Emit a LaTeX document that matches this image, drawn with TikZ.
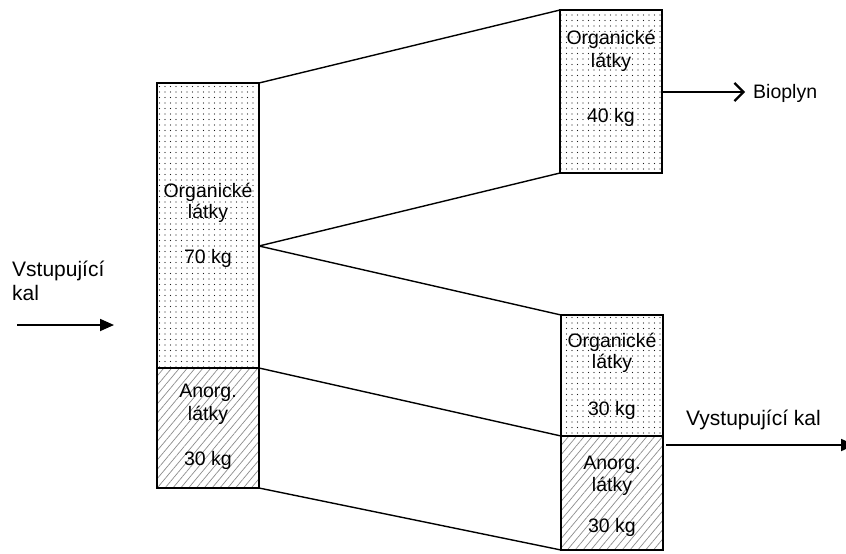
\documentclass[tikz,border=0pt]{standalone}
\usepackage{fontspec}
\setmainfont{Liberation Sans}
\usetikzlibrary{patterns.meta,arrows.meta}
\tikzset{
  box/.style={draw=none, minimum width=102pt, anchor=north west, inner sep=0pt, outer sep=0pt},
  orgbox/.style={box, pattern={Dots[radius=0.7pt, distance=5.5pt]}, pattern color=black!90},
  anorgbox/.style={box, pattern={Lines[angle=50, distance=6pt, line width=0.7pt]}, pattern color=black!45},
  frame/.style={line width=2.8pt},
  conn/.style={draw=black, line width=1.4pt},
  lbl/.style={font=\fontsize{19.5}{22}\selectfont, inner sep=0pt},
  big/.style={font=\fontsize{21}{24}\selectfont, inner sep=0pt},
}
\begin{document}
\begin{tikzpicture}[x=1pt,y=-1pt]
\useasboundingbox (0,0) rectangle (846,554);
\clip (0,0) rectangle (846,554);
% left column
\node[orgbox, minimum height=285pt] (L1) at (157,83) {};
\node[anorgbox, minimum height=120pt] (L2) at (157,368) {};
% top right column
\node[orgbox, minimum height=163pt] (T) at (560,10) {};
% bottom right column
\node[orgbox, minimum height=121pt] (B1) at (561,315) {};
\node[anorgbox, minimum height=114pt] (B2) at (561,436) {};
\coordinate (m) at (259,246);
% borders
\draw[frame] (L1.north west) rectangle (L1.south east);
\draw[frame] (L2.north west) rectangle (L2.south east);
\draw[frame] (T.north west) rectangle (T.south east);
\draw[frame] (B1.north west) rectangle (B1.south east);
\draw[frame] (B2.north west) rectangle (B2.south east);
% connectors
\draw[conn] (L1.north east) -- (T.north west);
\draw[conn] (m) -- (T.south west);
\draw[conn] (m) -- (B1.north west);
\draw[conn] (L2.north east) -- (B2.north west);
\draw[conn] (L2.south east) -- (B2.south west);
% labels left
\node[lbl] (l1a) at (208,192) {Organické};
\node[lbl] (l1b) at (208,213) {látky};
\node[lbl] (l1c) at (208,258) {70 kg};
\node[lbl] (l2a) at (208,393) {Anorg.};
\node[lbl] (l2b) at (208,415) {látky};
\node[lbl] (l2c) at (208,460) {30 kg};
% labels top right
\node[lbl] (ta) at (611,39) {Organické};
\node[lbl] (tb) at (611,62) {látky};
\node[lbl] (tc) at (611,117) {40 kg};
% labels bottom right
\node[lbl] (b1a) at (612,342) {Organické};
\node[lbl] (b1b) at (612,363) {látky};
\node[lbl] (b1c) at (612,410) {30 kg};
\node[lbl] (b2a) at (612,465) {Anorg.};
\node[lbl] (b2b) at (612,486) {látky};
\node[lbl] (b2c) at (612,527) {30 kg};
% input
\node[big, anchor=west] (vin1) at (12,271) {Vstupující};
\node[big, anchor=west] (vin2) at (12,293) {kal};
\coordinate (ina) at (17,325);
\coordinate (inb) at (114,325);
\draw[line width=1.8pt, -{Triangle[length=14pt, width=12pt]}] (ina) -- (inb);
% bioplyn
\coordinate (bioend) at (745,92);
\draw[line width=2.6pt, -{Straight Barb[length=9pt, width=18pt, line width=2.2pt]}] (T.east |- bioend) -- (bioend);
\node[lbl, anchor=west] (bio) at (753,93) {Bioplyn};
% output
\node[big, anchor=west] (vout) at (686,420) {Vystupující kal};
\coordinate (outa) at (666,445);
\coordinate (outb) at (855,445);
\draw[line width=1.8pt, -{Triangle[length=14pt, width=12pt]}] (outa) -- (outb);
\end{tikzpicture}
\end{document}
